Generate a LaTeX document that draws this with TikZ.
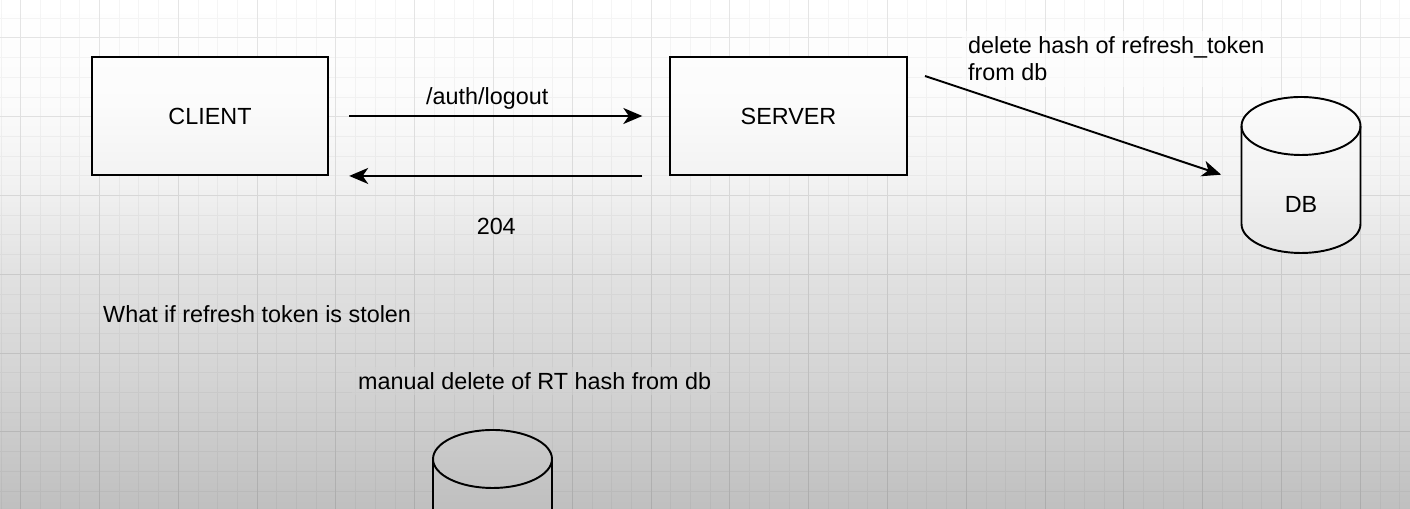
\documentclass[tikz,border=0pt]{standalone}
\usepackage{fontspec}
\setmainfont{Liberation Sans}
\usetikzlibrary{arrows.meta}
\usetikzlibrary{calc}
\usetikzlibrary{positioning}
\pgfdeclareverticalshading{screen fade}{100bp}{color(0bp)=(black!25); color(25bp)=(black!25); color(37.7bp)=(black!17); color(47.5bp)=(black!12); color(57.3bp)=(black!5); color(65bp)=(black!1.5); color(75bp)=(white); color(100bp)=(white)}
\tikzset{
    minor line/.style={
        black!4,
        line width=0.5pt,
    },
    major line/.style={
        black!10,
        line width=0.6pt,
    },
    box/.style={
        draw,
        fill=white,
        line width=1.1pt,
        minimum width=4.73cm,
        minimum height=2.36cm,
        font=\fontsize{13.3pt}{15.4pt}\selectfont,
    },
    barrel body/.style={
        minimum width=2.38cm,
        minimum height=1.96cm,
        inner sep=0,
        font=\fontsize{13.3pt}{15.4pt}\selectfont,
    },
    flow/.style={
        line width=1.1pt,
        -{Stealth[length=0.38cm, width=0.32cm, inset=0.11cm]},
    },
    note/.style={
        align=left,
        font=\fontsize{13.3pt}{15.4pt}\selectfont,
    },
    note bg/.style={
        note,
        fill=white,
        fill opacity=0.6,
        text opacity=1,
    },
}

\begin{document}
\begin{tikzpicture}[x=0.02cm, y=0.02cm]

    \useasboundingbox (0,0) rectangle (1410,509);
    \clip (0,0) rectangle (1410,509);
    \fill[white] (0,0) rectangle (1410,509);

    % grid
    \foreach \k in {0,...,71}
    {
        \draw[minor line] ({1.0+19.7*\k},0) -- ++(0,509);
    }
    \foreach \k in {0,...,25}
    {
        \draw[minor line] (0,{490.8-19.7*\k}) -- ++(1410,0);
    }
    \foreach \k in {0,...,17}
    {
        \draw[major line] ({20.7+78.8*\k},0) -- ++(0,509);
    }
    \foreach \k in {0,...,6}
    {
        \draw[major line] (0,{471.1-78.8*\k}) -- ++(1410,0);
    }

    \newcommand\dbbarrel[1]{
        \filldraw[fill=white, line width=1.1pt]
            ($(#1)+(-59.5,78)$) -- ($(#1)+(-59.5,-20)$)
            arc[start angle=180, end angle=360, x radius=1.19cm, y radius=0.58cm]
            -- ($(#1)+(59.5,78)$)
            arc[start angle=0, end angle=180, x radius=1.19cm, y radius=0.58cm] -- cycle;
        \draw[line width=1.1pt] ($(#1)+(-59.5,78)$)
            arc[start angle=180, end angle=360, x radius=1.19cm, y radius=0.58cm];
    }

    \node[box] (client) at (210,393) {CLIENT};
    \node[box] (server) at (788.5,393) {SERVER};

    \coordinate (dbmid) at (1301,305);
    \dbbarrel{dbmid}
    \node[barrel body] (db) at (dbmid) {DB};

    \coordinate (storemid) at (492.5,-28);
    \dbbarrel{storemid}
    \node[barrel body] (store) at (storemid) {};

    \draw[flow, shorten <=0.4cm, shorten >=0.54cm] (client.east) -- (server.west)
        node[midway, above, xshift=-0.24cm, font=\fontsize{13.3pt}{15.4pt}\selectfont] (logout) {/auth/logout};
    \draw[flow, shorten <=0.54cm, shorten >=0.4cm] (server.south west) -- (client.south east)
        node[midway, below=0.7cm, xshift=-0.06cm, font=\fontsize{13.3pt}{15.4pt}\selectfont] (nocontent) {204};

    \coordinate (hashfrom) at (925,433);
    \draw[flow] (hashfrom) -- ($(db.north west)+(-20,-20)$);

    \node[note bg, anchor=west] (hashnote) at (962,450) {delete hash of refresh\_token\\from db};
    \node[note, anchor=west] (stolennote) at (97,195) {What if refresh token is stolen};
    \node[note bg, anchor=west] (manualnote) at (352,128) {manual delete of RT hash from db};

    % screen darkening towards the bottom
    \shade[shading=screen fade, blend mode=multiply] (0,0) rectangle (1410,509);

\end{tikzpicture}
\end{document}
